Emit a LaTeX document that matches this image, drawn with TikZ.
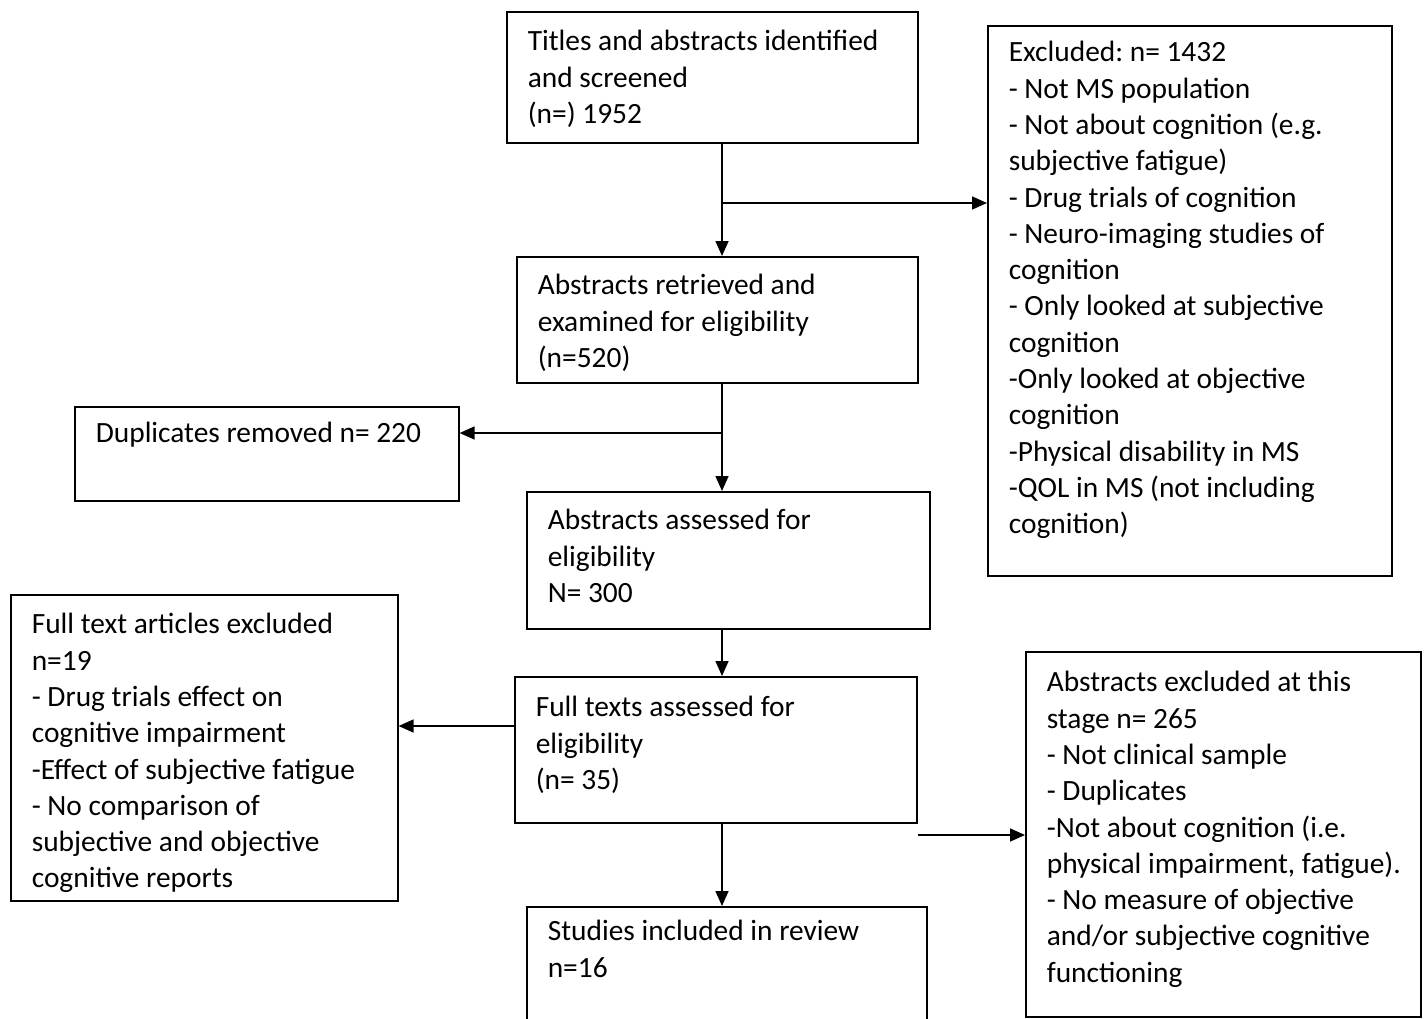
\documentclass[tikz,border=0pt]{standalone}
\usepackage{fontspec}
\setmainfont{Carlito}
\usetikzlibrary{arrows.meta}
\frenchspacing
\newcommand{\bx}[4]{\parbox[c][#2][t]{#1}{\hspace*{21pt}\rule{0pt}{#3}\begin{tabular}[t]{@{}l@{}}#4\end{tabular}}}
\tikzset{
  box/.style={draw, line width=1.6pt, inner sep=0pt, anchor=north west},
  arr/.style={line width=1.6pt, -{Triangle[length=15pt,width=13pt]}},
}
\begin{document}
\begin{tikzpicture}[x=1pt,y=-1pt,font=\fontsize{29.4}{36.3}\selectfont\frenchspacing]
\useasboundingbox (0,0) rectangle (1426,1019);
\node[box] (b1) at (506,11) {\bx{411pt}{131pt}{39pt}{Titles and abstracts identified\\ and screened\\ (n=) 1952}};
\node[box] (b2) at (516,256) {\bx{401pt}{126pt}{38pt}{Abstracts retrieved and\\ examined for eligibility\\ (n=520)}};
\node[box] (ex) at (987,25) {\bx{404pt}{550pt}{36pt}{Excluded: n= 1432\\ - Not MS population\\ - Not about cognition (e.g.\\ subjective fatigue)\\ - Drug trials of cognition\\ - Neuro-imaging studies of\\ cognition\\ - Only looked at subjective\\ cognition\\ -Only looked at objective\\ cognition\\ -Physical disability in MS\\ -QOL in MS (not including\\ cognition)}};
\node[box] (dup) at (74,406) {\bx{384pt}{94pt}{36pt}{Duplicates removed n= 220}};
\node[box] (b3) at (526,491) {\bx{403pt}{137pt}{38pt}{Abstracts assessed for\\ eligibility\\ N= 300}};
\node[box] (ft) at (10,594) {\bx{387pt}{306pt}{39pt}{Full text articles excluded\\ n=19\\ - Drug trials effect on\\ cognitive impairment\\ -Effect of subjective fatigue\\ - No comparison of\\ subjective and objective\\ cognitive reports}};
\node[box] (b4) at (514,676) {\bx{402pt}{146pt}{40pt}{Full texts assessed for\\ eligibility\\ (n= 35)}};
\node[box] (b5) at (526,906) {\bx{400pt}{140pt}{34pt}{Studies included in review\\ n=16}};
\node[box] (ae) at (1025,651) {\bx{395pt}{365pt}{40pt}{Abstracts excluded at this\\ stage n= 265\\ - Not clinical sample\\ - Duplicates\\ -Not about cognition (i.e.\\ physical impairment, fatigue).\\ - No measure of objective\\ and/or subjective cognitive\\ functioning}};
\coordinate (mx) at (722,0);
\coordinate (j1) at (722,203);
\coordinate (j2) at (722,433);
\coordinate (j3) at (0,726);
\coordinate (f1) at (918,835);
\draw[arr] (b1.south -| mx) -- (b2.north -| mx);
\draw[arr] (j1) -- (j1 -| ex.west);
\draw[arr] (b2.south -| mx) -- (b3.north -| mx);
\draw[arr] (j2) -- (j2 -| dup.east);
\draw[arr] (b3.south -| mx) -- (b4.north -| mx);
\draw[arr] (b4.west |- j3) -- (ft.east |- j3);
\draw[arr] (b4.south -| mx) -- (b5.north -| mx);
\draw[arr] (f1) -- (f1 -| ae.west);
\end{tikzpicture}
\end{document}
